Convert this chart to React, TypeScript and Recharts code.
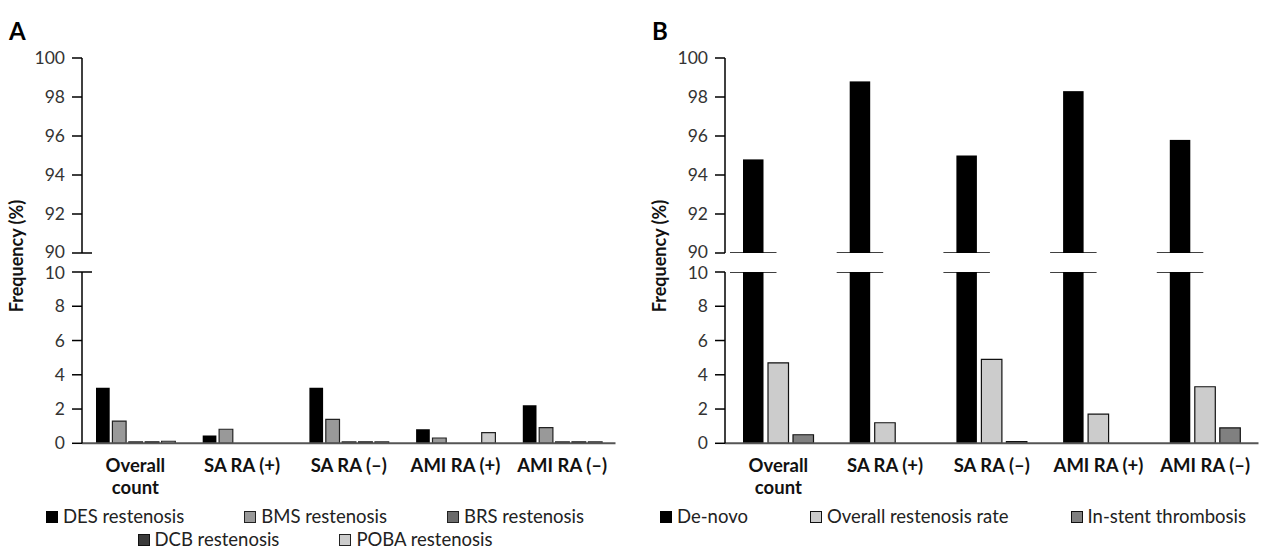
import React from 'react';
import { BarChart, Bar, XAxis, YAxis } from 'recharts';

// ---------- DATA ----------
const categories = ['Overall\ncount', 'SA RA (+)', 'SA RA (–)', 'AMI RA (+)', 'AMI RA (–)'];

// Panel A (%)
const desRestenosis = [3.25, 0.45, 3.25, 0.82, 2.22];
const bmsRestenosis = [1.3, 0.82, 1.4, 0.31, 0.91];
const brsRestenosis = [0.08, 0, 0.08, 0, 0.08];
const dcbRestenosis = [0.08, 0, 0.08, 0, 0.08];
const pobaRestenosis = [0.12, 0, 0.08, 0.62, 0.08];

// Panel B (%)
const deNovo = [94.8, 98.8, 95.0, 98.3, 95.8];
const overallRestenosis = [4.7, 1.2, 4.9, 1.7, 3.3];
const inStentThrombosis = [0.5, 0, 0.1, 0, 0.9];

const upperTicks = [90, 92, 94, 96, 98, 100];
const lowerTicks = [0, 2, 4, 6, 8, 10];
const upperDomain = [90, 100];
const lowerDomain = [0, 10];

// ---------- SERIES STYLES ----------
const seriesA = [
  { key: 'des', name: 'DES restenosis', values: desRestenosis, fill: '#000000', stroke: '#000000' },
  { key: 'bms', name: 'BMS restenosis', values: bmsRestenosis, fill: '#999999', stroke: '#222222' },
  { key: 'brs', name: 'BRS restenosis', values: brsRestenosis, fill: '#6b6b6b', stroke: '#222222' },
  { key: 'dcb', name: 'DCB restenosis', values: dcbRestenosis, fill: '#3a3a3a', stroke: '#111111' },
  { key: 'poba', name: 'POBA restenosis', values: pobaRestenosis, fill: '#cccccc', stroke: '#222222' },
];
const seriesB = [
  { key: 'deNovo', name: 'De-novo', values: deNovo, fill: '#000000', stroke: '#000000' },
  { key: 'rest', name: 'Overall restenosis rate', values: overallRestenosis, fill: '#cccccc', stroke: '#111111' },
  { key: 'thromb', name: 'In-stent thrombosis', values: inStentThrombosis, fill: '#808080', stroke: '#111111' },
];

const buildData = (series: any[], clampMax?: number) =>
  categories.map((c, i) => {
    const row: any = { category: c };
    series.forEach((s) => {
      row[s.key] = clampMax !== undefined ? Math.min(s.values[i], clampMax) : s.values[i];
    });
    return row;
  });

// ---------- LAYOUT ----------
const FONT = 'Lato, "Noto Sans", "DejaVu Sans", sans-serif';
const PLOT_W = 533.5;
const Y_AXIS_W = 60;
const TOP_PAD = 16;
const BOTTOM_PAD = 16;
const UP_TOP = 58;
const UP_H = 195;
const LOW_TOP = 272;
const LOW_H = 171.3;
const X_AXIS_H = 70;
const TICK_SIZE = 10;
const TICK_MARGIN = 7;

const YTick = (props: any) => {
  const { x, y, payload, breakExt } = props;
  const axisX = x + TICK_SIZE + TICK_MARGIN;
  const v = payload.value;
  const isBreak = breakExt && (v === 90 || v === 10);
  const nudge = v === 90 ? -1.5 : v === 10 ? 1.5 : 0;
  return (
    <g>
      <text x={x} y={y + nudge} dy={6} textAnchor="end" fontSize={17.5} fill="#333" fontFamily={FONT} fontWeight={400}>
        {v}
      </text>
      {isBreak ? <line x1={axisX} x2={axisX + 10} y1={y} y2={y} stroke="#000" strokeWidth={1.5} /> : null}
    </g>
  );
};

const XTick = (props: any) => {
  const { x, y, payload } = props;
  const lines = String(payload.value).split('\n');
  return (
    <text x={x} y={y + 21} textAnchor="middle" fontSize={18.5} fontWeight={700} fill="#111" fontFamily={FONT}>
      {lines.map((l, i) => (
        <tspan key={i} x={x} dy={i === 0 ? 0 : 22}>
          {l}
        </tspan>
      ))}
    </text>
  );
};

const UpperBreakBar = (props: any) => {
  const { x, y, width, height, fill } = props;
  if (width == null || height == null) return null;
  return (
    <g>
      <rect x={x} y={y} width={width} height={height} fill={fill} />
      <line x1={x - 13} x2={x + width + 13} y1={y + height} y2={y + height} stroke="#000" strokeWidth={1.5} />
    </g>
  );
};

const LowerBreakBar = (props: any) => {
  const { x, y, width, height, fill } = props;
  if (width == null || height == null) return null;
  return (
    <g>
      <rect x={x} y={y} width={width} height={height} fill={fill} />
      <line x1={x - 13} x2={x + width + 13} y1={y} y2={y} stroke="#000" strokeWidth={1.5} />
    </g>
  );
};

const yAxisCommon = {
  type: 'number' as const,
  allowDataOverflow: true,
  interval: 0 as const,
  width: Y_AXIS_W,
  tickSize: TICK_SIZE,
  tickMargin: TICK_MARGIN,
  axisLine: { stroke: '#000', strokeWidth: 1.5 },
  tickLine: { stroke: '#000', strokeWidth: 1.5 },
};

function Panel({
  axisX,
  series,
  barSize,
  barGap,
  breakSeriesKey,
  axisBreakExt,
}: {
  axisX: number;
  series: any[];
  barSize: number;
  barGap: number;
  breakSeriesKey?: string;
  axisBreakExt: boolean;
}) {
  const chartW = Y_AXIS_W + PLOT_W + 6;
  const upperData = buildData(series);
  const lowerData = buildData(series, breakSeriesKey ? 10 : undefined);
  return (
    <>
      <div style={{ position: 'absolute', left: axisX - Y_AXIS_W, top: UP_TOP - TOP_PAD }}>
        <BarChart
          width={chartW}
          height={TOP_PAD + UP_H + BOTTOM_PAD}
          data={upperData}
          margin={{ top: TOP_PAD, right: 6, bottom: BOTTOM_PAD, left: 0 }}
          barSize={barSize}
          barGap={barGap}
        >
          <XAxis dataKey="category" type="category" hide />
          <YAxis
            {...yAxisCommon}
            domain={upperDomain}
            ticks={upperTicks}
            tick={(p: any) => <YTick {...p} breakExt={axisBreakExt} />}
          />
          {breakSeriesKey
            ? series.map((s) =>
                s.key === breakSeriesKey ? (
                  <Bar key={s.key} dataKey={s.key} fill={s.fill} isAnimationActive={false} shape={<UpperBreakBar />} />
                ) : (
                  <Bar key={s.key} dataKey={s.key} fill="none" stroke="none" isAnimationActive={false} shape={() => null} />
                )
              )
            : null}
        </BarChart>
      </div>
      <div style={{ position: 'absolute', left: axisX - Y_AXIS_W, top: LOW_TOP - TOP_PAD }}>
        <BarChart
          width={chartW}
          height={TOP_PAD + LOW_H + X_AXIS_H}
          data={lowerData}
          margin={{ top: TOP_PAD, right: 6, bottom: 0, left: 0 }}
          barSize={barSize}
          barGap={barGap}
        >
          <XAxis
            dataKey="category"
            type="category"
            height={X_AXIS_H}
            interval={0}
            tickLine={false}
            axisLine={{ stroke: '#555', strokeWidth: 2 }}
            tick={<XTick />}
          />
          <YAxis
            {...yAxisCommon}
            domain={lowerDomain}
            ticks={lowerTicks}
            tick={(p: any) => <YTick {...p} breakExt={axisBreakExt} />}
          />
          {series.map((s) =>
            s.key === breakSeriesKey ? (
              <Bar key={s.key} dataKey={s.key} fill={s.fill} isAnimationActive={false} shape={<LowerBreakBar />} />
            ) : (
              <Bar
                key={s.key}
                dataKey={s.key}
                fill={s.fill}
                stroke={s.stroke}
                strokeWidth={s.stroke === s.fill ? 0 : 1.2}
                isAnimationActive={false}
              />
            )
          )}
        </BarChart>
      </div>
    </>
  );
}

function Legend({ items, style }: { items: any[]; style: React.CSSProperties }) {
  return (
    <div
      style={{
        position: 'absolute',
        display: 'flex',
        flexWrap: 'wrap',
        fontFamily: FONT,
        fontSize: 18.5,
        fontWeight: 400,
        color: '#222',
        lineHeight: '23px',
        ...style,
      }}
    >
      {items.map((it) => (
        <div key={it.key} style={{ display: 'flex', alignItems: 'center' }}>
          <span
            style={{
              display: 'inline-block',
              width: 10,
              height: 10,
              background: it.fill,
              border: `1px solid ${it.stroke}`,
              marginRight: 5,
            }}
          />
          <span>{it.name}</span>
        </div>
      ))}
    </div>
  );
}

export default function App() {
  return (
    <div
      style={{
        position: 'absolute',
        left: 0,
        top: 0,
        width: 1267,
        height: 551,
        background: '#fff',
        overflow: 'hidden',
      }}
    >
      <Panel axisX={82} series={seriesA} barSize={13.7} barGap={2.7} axisBreakExt={true} />
      <Panel axisX={725} series={seriesB} barSize={20.5} barGap={4.5} breakSeriesKey="deNovo" axisBreakExt={false} />
      <svg
        width={1267}
        height={551}
        style={{ position: 'absolute', left: 0, top: 0, pointerEvents: 'none' }}
      >
        <text x={9} y={40} fontSize={24} fontWeight={700} fontFamily={FONT} fill="#000">
          A
        </text>
        <text x={652} y={40} fontSize={24} fontWeight={700} fontFamily={FONT} fill="#000">
          B
        </text>
        <text
          transform="translate(23,256) rotate(-90)"
          textAnchor="middle"
          fontSize={18}
          fontWeight={700}
          fontFamily={FONT}
          fill="#111"
        >
          Frequency (%)
        </text>
        <text
          transform="translate(666,256) rotate(-90)"
          textAnchor="middle"
          fontSize={18}
          fontWeight={700}
          fontFamily={FONT}
          fill="#111"
        >
          Frequency (%)
        </text>
      </svg>
      <Legend
        items={seriesA}
        style={{ left: 20, top: 505, width: 590, justifyContent: 'center', columnGap: 60, rowGap: 0 }}
      />
      <Legend items={seriesB} style={{ left: 660, top: 505, width: 605, columnGap: 62 }} />
    </div>
  );
}
